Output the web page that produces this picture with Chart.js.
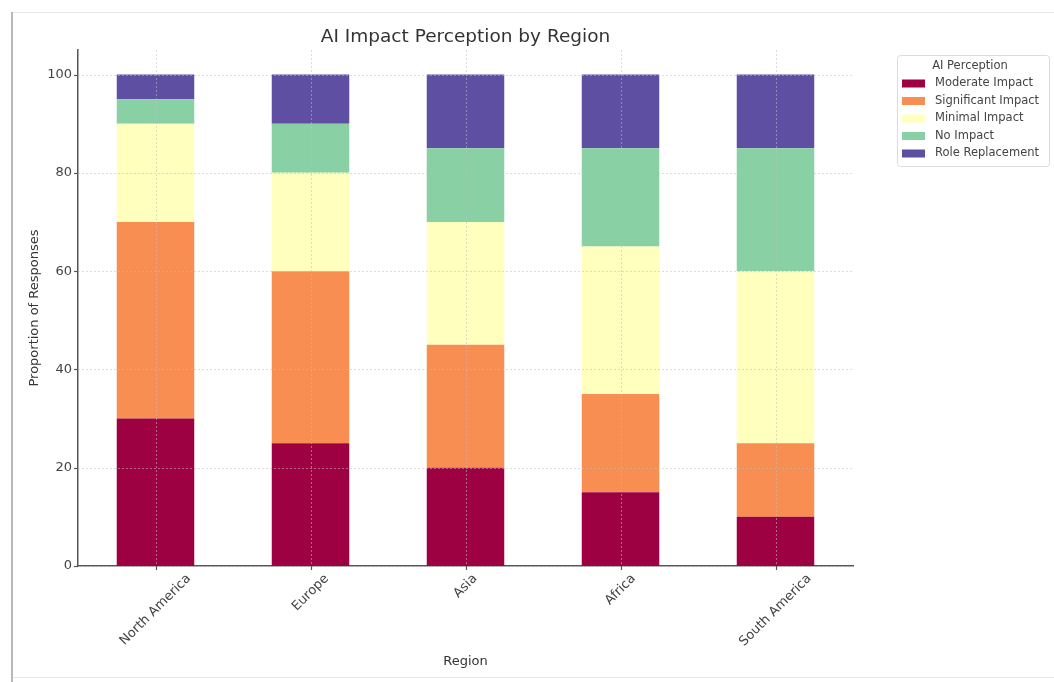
<!DOCTYPE html>
<html><head><meta charset="utf-8">
<script src="https://cdn.jsdelivr.net/npm/chart.js@4"></script>
<style>html,body{margin:0;padding:0;background:#fff}#wrap{width:1054px;height:682px}</style>
</head><body><div id="wrap"><canvas id="c" width="1054" height="682"></canvas></div>
<script>
const regions = ['North America', 'Europe', 'Asia', 'Africa', 'South America'];
const moderateImpact = [30, 25, 20, 15, 10];
const significantImpact = [40, 35, 25, 20, 15];
const minimalImpact = [20, 20, 25, 30, 35];
const noImpact = [5, 10, 15, 20, 25];
const roleReplacement = [5, 10, 15, 15, 15];
const yTicks = [0, 20, 40, 60, 80, 100];
const seriesNames = ['Moderate Impact', 'Significant Impact', 'Minimal Impact', 'No Impact', 'Role Replacement'];
const seriesColors = ['#9e0142', '#f88e52', '#ffffbe', '#89d0a4', '#5e4fa2'];
const FONT = '"DejaVu Sans", sans-serif';

const seriesData = [moderateImpact, significantImpact, minimalImpact, noImpact, roleReplacement];

const custom = {
  id: 'custom',
  beforeDraw(chart) {
    const ctx = chart.ctx;
    ctx.save();
    ctx.fillStyle = '#fff';
    ctx.fillRect(0, 0, chart.width, chart.height);
    ctx.strokeStyle = '#e6e6e6'; ctx.lineWidth = 1;
    ctx.beginPath(); ctx.moveTo(11, 12.5); ctx.lineTo(1054, 12.5); ctx.stroke();
    ctx.beginPath(); ctx.moveTo(11, 677.5); ctx.lineTo(1054, 677.5); ctx.stroke();
    ctx.strokeStyle = '#b8b8b8'; ctx.lineWidth = 2;
    ctx.beginPath(); ctx.moveTo(12, 12); ctx.lineTo(12, 682); ctx.stroke();
    ctx.restore();
  },
  afterDatasetsDraw(chart) {
    const ctx = chart.ctx, xs = chart.scales.x, ys = chart.scales.y, a = chart.chartArea;
    ctx.save();
    ctx.strokeStyle = 'rgba(190,190,190,0.55)'; ctx.lineWidth = 1; ctx.setLineDash([2, 2]);
    yTicks.forEach(v => { const y = Math.round(ys.getPixelForValue(v)) + 0.5;
      ctx.beginPath(); ctx.moveTo(a.left, y); ctx.lineTo(a.right, y); ctx.stroke(); });
    regions.forEach((r, i) => { const x = Math.round(xs.getPixelForValue(i)) + 0.5;
      ctx.beginPath(); ctx.moveTo(x, a.top); ctx.lineTo(x, a.bottom); ctx.stroke(); });
    ctx.setLineDash([]);
    ctx.strokeStyle = '#555'; ctx.lineWidth = 1.2;
    yTicks.forEach(v => { const y = Math.round(ys.getPixelForValue(v)) + 0.5;
      ctx.beginPath(); ctx.moveTo(a.left - 4, y); ctx.lineTo(a.left, y); ctx.stroke(); });
    regions.forEach((r, i) => { const x = Math.round(xs.getPixelForValue(i)) + 0.5;
      ctx.beginPath(); ctx.moveTo(x, a.bottom); ctx.lineTo(x, a.bottom + 4); ctx.stroke(); });
    ctx.fillStyle = '#444'; ctx.font = '13px ' + FONT;
    ctx.textAlign = 'center'; ctx.textBaseline = 'middle';
    regions.forEach((r, i) => {
      const x = xs.getPixelForValue(i);
      const w = ctx.measureText(r).width;
      const bb = (w + 13) * Math.SQRT1_2;
      ctx.save(); ctx.translate(x, a.bottom + 6 + bb / 2); ctx.rotate(-Math.PI / 4);
      ctx.fillText(r, 0, 0); ctx.restore();
    });
    ctx.fillStyle = '#333'; ctx.font = '18.5px ' + FONT;
    ctx.fillText('AI Impact Perception by Region', (a.left + a.right) / 2, 37);
    ctx.font = '13px ' + FONT; ctx.fillStyle = '#333';
    ctx.fillText('Region', (a.left + a.right) / 2, 662);
    ctx.save(); ctx.translate(35, (a.top + a.bottom) / 2); ctx.rotate(-Math.PI / 2);
    ctx.fillText('Proportion of Responses', 0, 0); ctx.restore();
    const lx = 897, ly = 55, lw = 152, lh = 111;
    ctx.fillStyle = 'rgba(255,255,255,0.9)'; ctx.strokeStyle = '#dcdcdc'; ctx.lineWidth = 1;
    ctx.beginPath(); ctx.roundRect(lx + 0.5, ly + 0.5, lw, lh, 3); ctx.fill(); ctx.stroke();
    ctx.font = '11.5px ' + FONT; ctx.fillStyle = '#444'; ctx.textAlign = 'center';
    ctx.fillText('AI Perception', 970, 66);
    ctx.textAlign = 'left';
    chart.data.datasets.forEach((d, i) => {
      const y = 83.5 + i * 17.5;
      ctx.fillStyle = d.backgroundColor; ctx.fillRect(902, y - 4, 23, 8);
      ctx.fillStyle = '#444'; ctx.fillText(d.label, 935, y);
    });
    ctx.restore();
  }
};

new Chart(document.getElementById('c'), {
  type: 'bar',
  data: {
    labels: regions,
    datasets: seriesNames.map((n, i) => ({
      label: n, data: seriesData[i], backgroundColor: seriesColors[i],
      borderWidth: 0, barPercentage: 1, categoryPercentage: 0.5
    }))
  },
  options: {
    responsive: false, animation: false, devicePixelRatio: 1,
    layout: { padding: { top: 50, right: 201, left: 0, bottom: 0 } },
    plugins: { legend: { display: false }, title: { display: false }, tooltip: { enabled: false } },
    scales: {
      x: {
        stacked: true, offset: true,
        grid: { display: false },
        border: { display: true, color: '#555', width: 1.5 },
        ticks: { display: false },
        afterFit(s) { s.height = 116; }
      },
      y: {
        stacked: true, min: 0, max: 105,
        grid: { display: false, tickLength: 4 },
        border: { display: true, color: '#555', width: 1.5 },
        ticks: { stepSize: 20, color: '#444', font: { family: FONT, size: 13 }, padding: 2 },
        afterBuildTicks(s) { s.ticks = yTicks.map(v => ({ value: v })); },
        afterFit(s) { s.width = 78; }
      }
    }
  },
  plugins: [custom]
});
</script></body></html>
